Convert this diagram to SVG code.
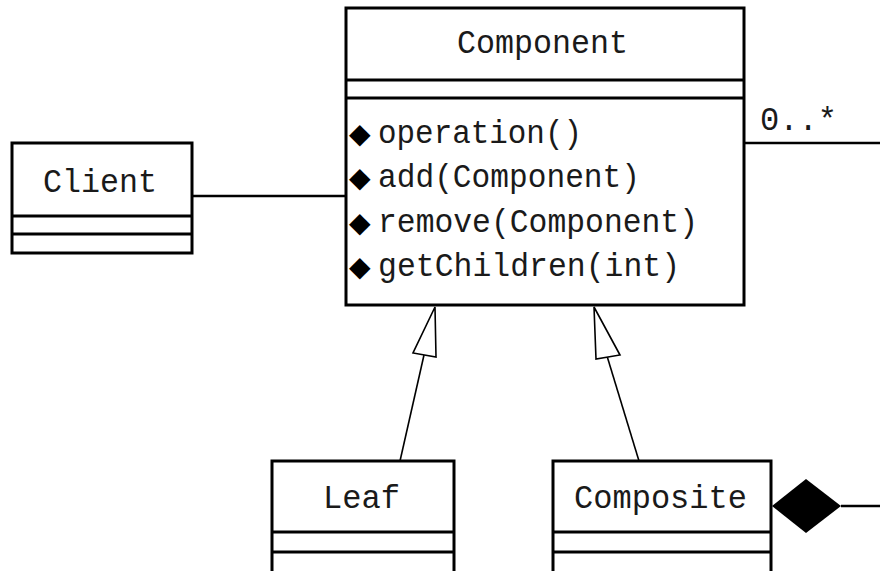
<svg xmlns="http://www.w3.org/2000/svg" width="880" height="571" viewBox="0 0 880 571">
<style>
.box{fill:#fff;stroke:#000;stroke-width:3}
.div{stroke:#000;stroke-width:3}
.t{font-family:"Liberation Mono","DejaVu Sans Mono",monospace;font-size:34px;fill:#1a1a1a}
.b{font-family:"DejaVu Sans",sans-serif;font-size:28px;fill:#000}
.ln{stroke:#000;stroke-width:2.5;fill:none}
.inh{stroke:#000;stroke-width:1.6;fill:none}
.tri{fill:#fff;stroke:#000;stroke-width:1.6}
</style>
<rect width="880" height="571" fill="#fff"/>
<g id="connectors">
<line class="ln" x1="192" y1="196" x2="346" y2="196"/>
<line class="ln" x1="744" y1="143" x2="880" y2="143"/>
<line class="ln" x1="841" y1="506" x2="880" y2="506"/>
<polygon points="772,506 806,479 841,506 806,533" fill="#000"/>
<line class="inh" x1="400" y1="461" x2="424" y2="355"/>
<polygon class="tri" points="435,307 436,357 413,353"/>
<line class="inh" x1="639" y1="461" x2="607" y2="356"/>
<polygon class="tri" points="594,307 620,355 596,359"/>
<text class="t" x="760" y="130" textLength="77" lengthAdjust="spacingAndGlyphs">0..*</text>
</g>
<g id="component">
<rect class="box" x="346" y="8" width="398" height="297"/>
<line class="div" x1="346" y1="80" x2="744" y2="80"/>
<line class="div" x1="346" y1="98" x2="744" y2="98"/>
<text class="t" x="457" y="53" textLength="171" lengthAdjust="spacingAndGlyphs">Component</text>
<text class="b" x="349" y="143">◆</text>
<text class="t" x="378" y="143" textLength="204" lengthAdjust="spacingAndGlyphs">operation()</text>
<text class="b" x="349" y="187">◆</text>
<text class="t" x="378" y="187" textLength="262" lengthAdjust="spacingAndGlyphs">add(Component)</text>
<text class="b" x="349" y="232">◆</text>
<text class="t" x="378" y="232" textLength="320" lengthAdjust="spacingAndGlyphs">remove(Component)</text>
<text class="b" x="349" y="276">◆</text>
<text class="t" x="378" y="276" textLength="302" lengthAdjust="spacingAndGlyphs">getChildren(int)</text>
</g>
<g id="client">
<rect class="box" x="12" y="143" width="180" height="110"/>
<line class="div" x1="12" y1="216" x2="192" y2="216"/>
<line class="div" x1="12" y1="234" x2="192" y2="234"/>
<text class="t" x="43" y="192" textLength="114" lengthAdjust="spacingAndGlyphs">Client</text>
</g>
<g id="leaf">
<rect class="box" x="272" y="461" width="182" height="120"/>
<line class="div" x1="272" y1="532" x2="454" y2="532"/>
<line class="div" x1="272" y1="552" x2="454" y2="552"/>
<text class="t" x="323" y="508" textLength="77" lengthAdjust="spacingAndGlyphs">Leaf</text>
</g>
<g id="composite">
<rect class="box" x="553" y="461" width="218" height="120"/>
<line class="div" x1="553" y1="532" x2="771" y2="532"/>
<line class="div" x1="553" y1="552" x2="771" y2="552"/>
<text class="t" x="574" y="508" textLength="173" lengthAdjust="spacingAndGlyphs">Composite</text>
</g>
</svg>
